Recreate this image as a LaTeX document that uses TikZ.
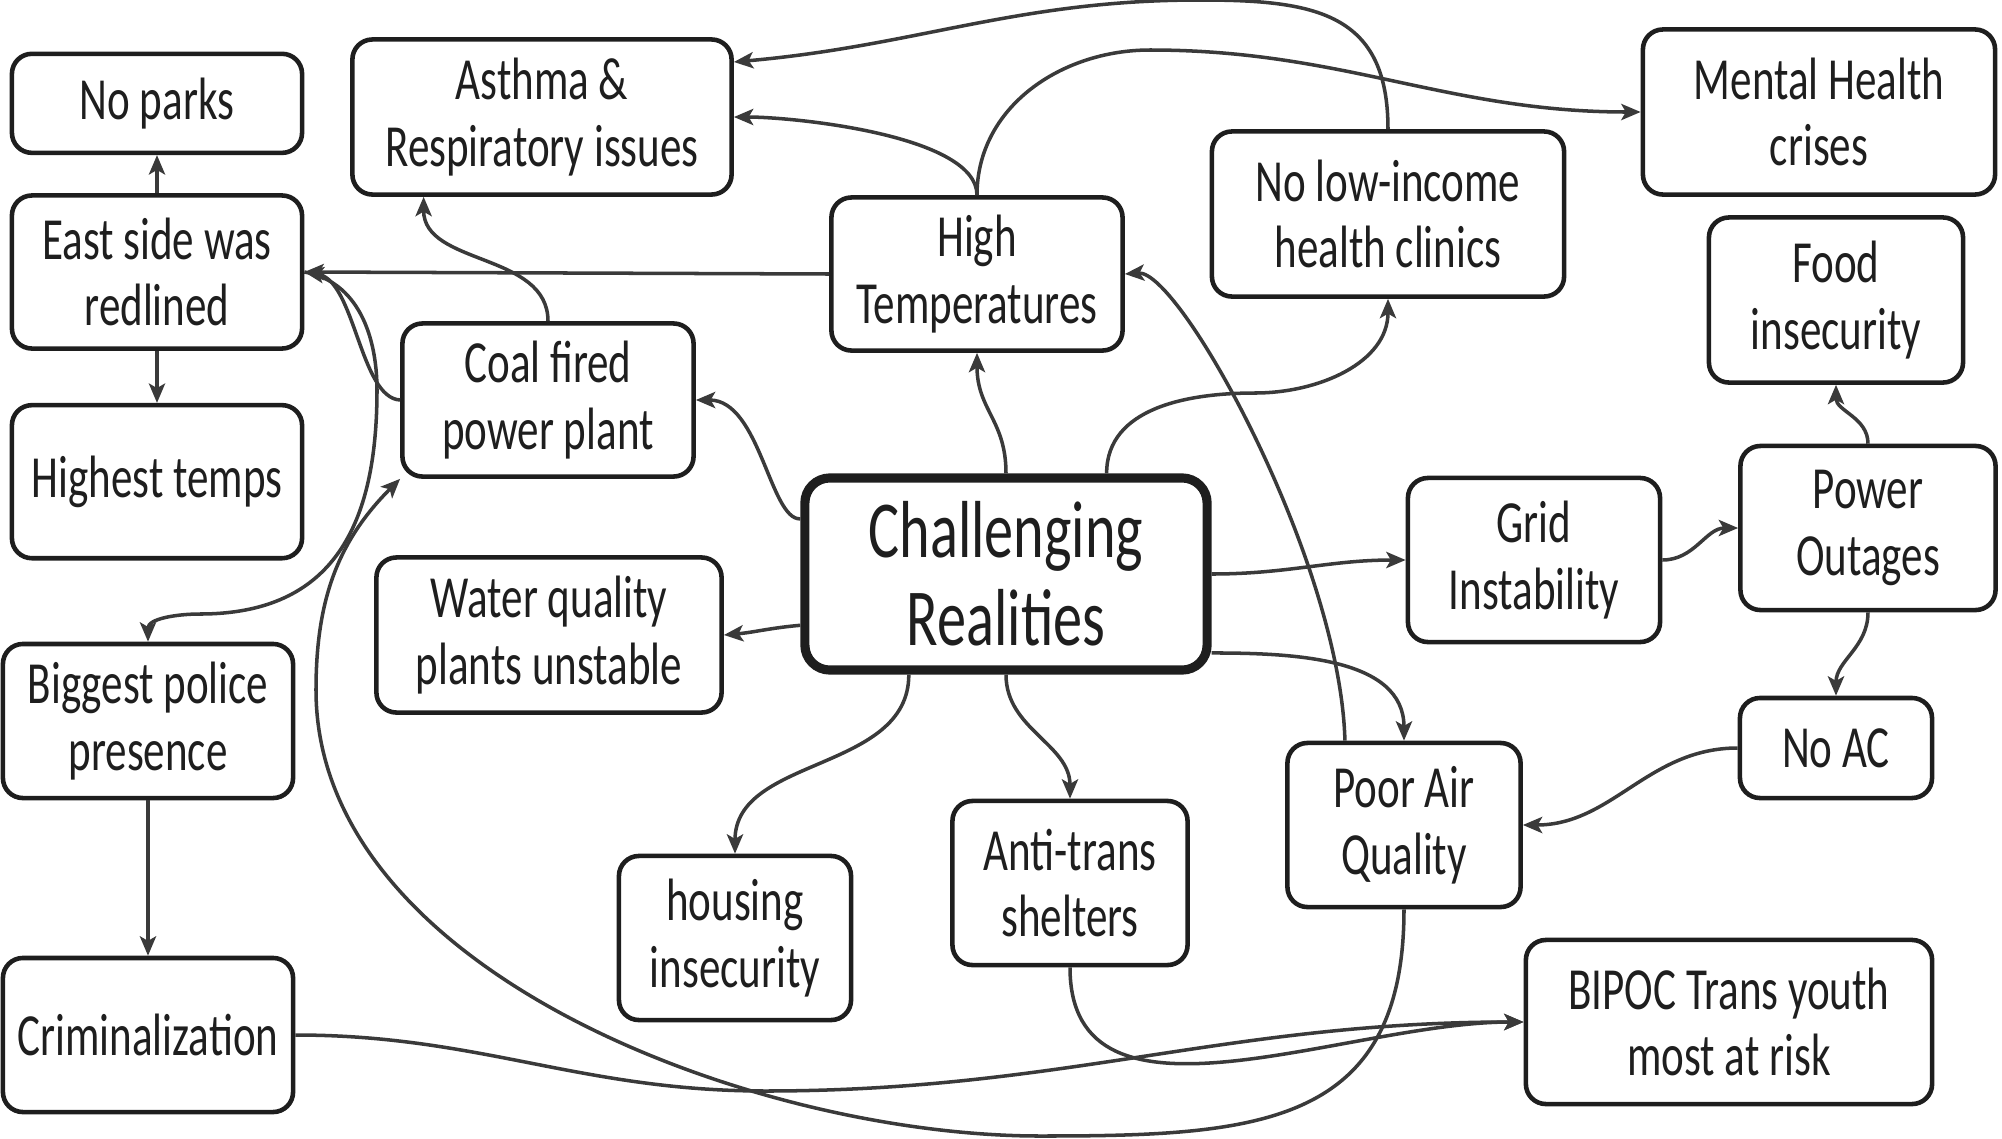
\documentclass[tikz,border=0pt]{standalone}
\usepackage{fontspec}
\setmainfont{Carlito}[FakeStretch=0.72]
\usepackage{xcolor}
\usetikzlibrary{arrows.meta,positioning}

\definecolor{ink}{HTML}{1E1E1E}
\definecolor{wire}{HTML}{3A3A3A}

\begin{document}
\begin{tikzpicture}[x=0.01cm, y=0.01cm,
	every node/.style={font=\fontsize{17}{19}\selectfont, text=ink},
	box/.style={rectangle, rounded corners=0.2cm, draw=ink, line width=1.3pt, align=center, inner sep=1pt},
	link/.style={draw=wire, line width=1pt, -{Stealth[length=5.5pt, width=4.6pt, inset=1.3pt]}}]
				\useasboundingbox (0,0) rectangle (2002,-1139);

				% left column
				\node[box, minimum width=2.90cm, minimum height=1.53cm] (redline) at (157,-272) {East side was\\redlined};
				\node[box, minimum width=2.90cm, minimum height=0.99cm, above=0.38cm of redline] (noparks) {No parks};
				\node[box, minimum width=2.90cm, minimum height=1.53cm, below=0.52cm of redline] (hightemps) {Highest temps};
				\node[box, minimum width=2.90cm, minimum height=1.54cm] (police) at (148,-721) {Biggest police\\presence};
				\node[box, minimum width=2.90cm, minimum height=1.54cm] (crim) at (148,-1035) {Criminalization};

				% middle
				\node[box, minimum width=3.79cm, minimum height=1.55cm] (asthma) at (542,-117) {Asthma \&\\Respiratory issues};
				\node[box, minimum width=2.91cm, minimum height=1.53cm] (coal) at (548,-400) {Coal fired\\power plant};
				\node[box, minimum width=3.45cm, minimum height=1.55cm] (water) at (549,-635) {Water quality\\plants unstable};
				\node[box, minimum width=2.91cm, minimum height=1.53cm] (hight) at (977,-274) {High\\Temperatures};
				\node[box, line width=2.6pt, rounded corners=0.25cm, minimum width=4.02cm, minimum height=1.92cm,
					font=\fontsize{23}{25}\selectfont] (chal) at (1006,-574) {Challenging\\Realities};
				\node[box, minimum width=2.32cm, minimum height=1.64cm] (housing) at (735,-938) {housing\\insecurity};
				\node[box, minimum width=2.35cm, minimum height=1.64cm] (antitrans) at (1070,-883) {Anti-trans\\shelters};

				% right
				\node[box, minimum width=3.52cm, minimum height=1.65cm] (clinics) at (1388,-214) {No low-income\\health clinics};
				\node[box, minimum width=3.52cm, minimum height=1.65cm] (mental) at (1819,-112) {Mental Health\\crises};
				\node[box, minimum width=2.54cm, minimum height=1.65cm] (food) at (1836,-300) {Food\\insecurity};
				\node[box, minimum width=2.52cm, minimum height=1.64cm] (grid) at (1534,-560) {Grid\\Instability};
				\node[box, minimum width=2.55cm, minimum height=1.64cm] (power) at (1868,-528) {Power\\Outages};
				\node[box, minimum width=1.92cm, minimum height=1.00cm] (noac) at (1836,-748) {No AC};
				\node[box, minimum width=2.33cm, minimum height=1.64cm] (poorair) at (1404,-825) {Poor Air\\Quality};
				\node[box, minimum width=4.06cm, minimum height=1.64cm] (bipoc) at (1729,-1022) {BIPOC Trans youth\\most at risk};

				% connectors
				\draw[link] (redline.north) -- (noparks.south);
				\draw[link] (redline.south) -- (hightemps.north);
				\draw[link] (police.south) -- (crim.north);
				\draw[link] (hight.west) -- (redline.east);
				\draw[link] (hight.north) to[out=90,in=0,looseness=0.6] (asthma.east);
				\draw[link] (hight.north) to[out=90,in=180] (1150,-50) to[out=0,in=180] (mental.west);
				\draw[link] (clinics.north) to[out=90,in=0,looseness=1.3] (1200,0) to[out=180,in=5] (asthma.16);
				\draw[link] (coal.north) to[out=90,in=-90] (asthma.214);
				\draw[link] (coal.west) .. controls (360,-398) and (355,-280) .. (redline.east);
				\draw[link] (redline.east) to[out=-10,in=90] (377,-390) to[out=-90,in=0,looseness=1.2] (200,-614) to[out=180,in=90] (police.north);
				\draw[link] (chal.165) .. controls (770,-520) and (760,-400) .. (coal.east);
				\draw[link] (chal.north) .. controls (1006,-420) and (977,-410) .. (hight.south);
				\draw[link] (chal.45) to[out=90,in=180] (1255,-393) to[out=0,in=-90] (clinics.south);
				\draw[link] (chal.194) to[out=185,in=5] (water.east);
				\draw[link] (chal.226) to[out=-90,in=90] (housing.north);
				\draw[link] (chal.south) to[out=-90,in=90] (antitrans.north);
				\draw[link] (chal.east) to[out=0,in=180] (grid.west);
				\draw[link] (chal.-21) to[out=0,in=90] (poorair.north);
				\draw[link] (grid.east) to[out=0,in=180] (power.west);
				\draw[link] (power.north) to[out=90,in=-90] (food.south);
				\draw[link] (power.south) to[out=-90,in=90] (noac.north);
				\draw[link] (noac.west) to[out=180,in=0] (poorair.east);
				\draw[link] (poorair.125) .. controls (1340,-560) and (1180,-270) .. (hight.east);
				\draw[link] (poorair.south) to[out=-90,in=0,looseness=1.3] (1040,-1136) to[out=180,in=-90,looseness=0.85] (316,-690) to[out=90,in=225] (coal.south west);
				\draw[link] (crim.east) to[out=0,in=180] (765,-1091) to[out=0,in=180] (bipoc.west);
				\draw[link] (antitrans.south) to[out=-90,in=180] (bipoc.west);
			\end{tikzpicture}
\end{document}
